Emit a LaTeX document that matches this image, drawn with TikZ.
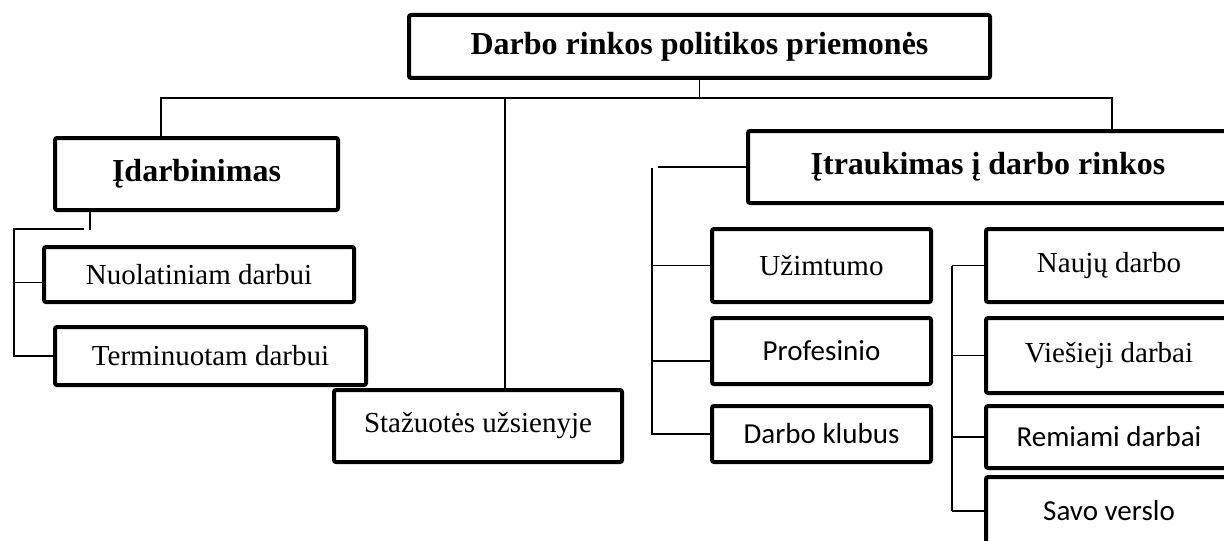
\documentclass[tikz,border=0pt]{standalone}
\usepackage{fontspec}
\setmainfont{Liberation Serif}
\newfontfamily\calibri{Carlito}

\begin{document}
\begin{tikzpicture}[x=0.5pt, y=-0.5pt,
    box/.style={draw, line width=2pt, rounded corners=1pt, inner sep=0pt, align=center, font=\fontsize{14.5}{17}\selectfont},
    head/.style={box, font=\bfseries\fontsize{16}{19}\selectfont},
    sans/.style={box, font=\calibri\fontsize{14.5}{17}\selectfont},
    link/.style={line width=0.7pt}]
        \useasboundingbox (0,0) rectangle (1224,540);
        \clip (0,0) rectangle (1224,540);

        % Top box
        \node[head, minimum width=290.5pt, minimum height=31.5pt] (top) at (699.5,46.5) {Darbo rinkos politikos priemonės};

        % Idarbinimas and its boxes
        \node[head, minimum width=141.5pt, minimum height=36pt] (idarb) at (196.5,174) {Įdarbinimas};
        \node[box, minimum width=155pt, minimum height=27.5pt] (nuol) at (199,274.5) {Nuolatiniam darbui};
        \node[box, minimum width=155.5pt, minimum height=29pt] (term) at (210.5,356) {Terminuotam darbui};

        % Stazuotes
        \node[box, minimum width=144pt, minimum height=36pt] (staz) at (478,426) {Stažuotės užsienyje};

        % Itraukimas and its boxes
        \node[head, minimum width=240pt, minimum height=36pt] (itrauk) at (988,167) {Įtraukimas į darbo rinkos};
        \node[box, minimum width=109.5pt, minimum height=36.5pt] (uzimt) at (821.5,265.5) {Užimtumo};
        \node[sans, minimum width=109.5pt, minimum height=33pt] (profes) at (821.5,351) {Profesinio};
        \node[sans, minimum width=109.5pt, minimum height=28pt] (klub) at (821.5,434) {Darbo klubus};
        \node[box, minimum width=123pt, minimum height=36.5pt] (nauju) at (1109,265.5) {Naujų darbo};
        \node[box, minimum width=123pt, minimum height=37.5pt] (viesi) at (1109,355.5) {Viešieji darbai};
        \node[sans, minimum width=123pt, minimum height=31pt] (remiam) at (1109,437) {Remiami darbai};
        \node[sans, minimum width=123pt, minimum height=34pt] (savo) at (1109,511) {Savo verslo};

        % Branches under the top box
        \coordinate (hl) at (161,98);
        \coordinate (hm) at (505,98);
        \coordinate (hr) at (1112,98);
        \draw[link] (top.south) -- (top.south |- hl);
        \draw[link] (hl |- idarb.north) -- (hl) -- (hr) -- (hr |- itrauk.north);
        \draw[link] (hm) -- (hm |- staz.north);

        % Bracket for Idarbinimas
        \coordinate (d1) at (90,230);
        \coordinate (d2) at (84,229);
        \coordinate (d3) at (14,229);
        \coordinate (n1) at ([yshift=-4pt]nuol.west);
        \draw[link] (d1 |- idarb.south) -- (d1);
        \draw[link] (d2) -- (d3) -- (d3 |- term.west) -- (term.west);
        \draw[link] (d3 |- n1) -- (n1);

        % Bracket for Itraukimas
        \coordinate (t1) at (658,167);
        \coordinate (t2) at (652,168);
        \coordinate (p1) at ([yshift=-5pt]profes.west);
        \draw[link] (itrauk.west) -- (t1);
        \draw[link] (t2) -- (t2 |- klub.west) -- (klub.west);
        \draw[link] (t2 |- uzimt.west) -- (uzimt.west);
        \draw[link] (t2 |- p1) -- (p1);

        % Bracket for the right column
        \coordinate (r1) at (952,0);
        \draw[link] (r1 |- nauju.west) -- (r1 |- savo.west);
        \foreach \b in {nauju,viesi,remiam,savo} {
            \draw[link] (r1 |- \b.west) -- (\b.west);
        }
\end{tikzpicture}
\end{document}
